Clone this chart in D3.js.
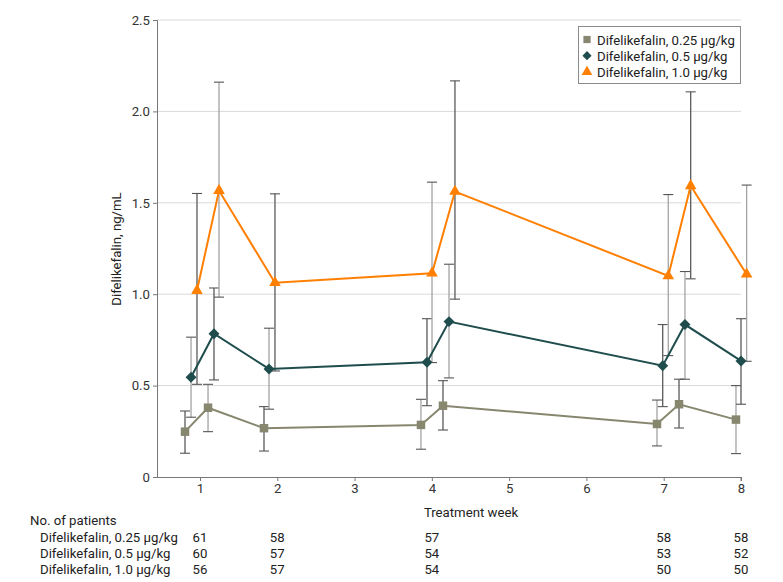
<!DOCTYPE html>
<html>
<head>
<meta charset="utf-8">
<script src="https://cdn.jsdelivr.net/npm/d3@7"></script>
<style>
  html, body { margin: 0; padding: 0; background: #fff; }
  svg { display: block; font-family: Roboto, "Liberation Sans", Arial, sans-serif; }
</style>
</head>
<body>
<div id="chart"></div>
<script>
// ---------- data ----------
const seriesNames = ["Difelikefalin, 0.25 µg/kg", "Difelikefalin, 0.5 µg/kg", "Difelikefalin, 1.0 µg/kg"];

// sampling time in weeks (pre/post-dialysis points around each visit)
const x025 = [0.806, 1.104, 1.828, 3.859, 4.144, 6.913, 7.198, 7.935];
const y025 = [0.248, 0.379, 0.267, 0.285, 0.390, 0.290, 0.398, 0.314];
const lo025 = [0.130, 0.248, 0.142, 0.152, 0.257, 0.170, 0.268, 0.128];
const hi025 = [0.361, 0.507, 0.385, 0.425, 0.527, 0.421, 0.535, 0.500];

const x05 = [0.884, 1.181, 1.893, 3.937, 4.222, 6.987, 7.275, 8.000];
const y05 = [0.546, 0.784, 0.591, 0.628, 0.850, 0.609, 0.834, 0.635];
const lo05 = [0.327, 0.531, 0.371, 0.390, 0.542, 0.385, 0.535, 0.398];
const hi05 = [0.765, 1.034, 0.814, 0.866, 1.164, 0.834, 1.124, 0.866];

const x10 = [0.961, 1.246, 1.970, 4.002, 4.299, 7.059, 7.349, 8.073];
const y10 = [1.020, 1.567, 1.063, 1.115, 1.562, 1.100, 1.593, 1.109];
const lo10 = [0.507, 0.984, 0.580, 0.626, 0.973, 0.664, 1.084, 0.633];
const hi10 = [1.551, 2.160, 1.549, 1.613, 2.167, 1.545, 2.107, 1.597];

const xTicks = [1, 2, 3, 4, 5, 6, 7, 8];
const yTicks = [0, 0.5, 1.0, 1.5, 2.0, 2.5];
const yTickLabels = ["0", "0.5", "1.0", "1.5", "2.0", "2.5"];

const patientWeeks = [1, 2, 4, 7, 8];
const patients025 = [61, 58, 57, 58, 58];
const patients05 = [60, 57, 54, 53, 52];
const patients10 = [56, 57, 54, 50, 50];

// ---------- layout ----------
const W = 783, H = 582;
const FONT = "Roboto, 'Liberation Sans', Arial, sans-serif";
const FS = 13.2;
const colors = ["#87876f", "#1f4d4d", "#ff7f00"];
const symbols = [d3.symbolSquare, d3.symbolSquare, d3.symbolTriangle];

const svg = d3.select("#chart").append("svg").attr("width", W).attr("height", H);

const x = d3.scaleLinear().domain([1, 8]).range([200, 741]);
const y = d3.scaleLinear().domain([0, 2.5]).range([477, 20]);
const xLeft = 157, xRight = 741;

// gridlines
svg.append("g").selectAll("line").data(yTicks.filter(d => d > 0)).join("line")
  .attr("x1", xLeft).attr("x2", xRight)
  .attr("y1", d => y(d)).attr("y2", d => y(d))
  .attr("stroke", "#d9d9d9").attr("stroke-width", 1);

// y axis
const yAxis = d3.axisLeft(y).tickValues(yTicks).tickFormat((d, i) => yTickLabels[i]).tickSize(4).tickPadding(3);
const gy = svg.append("g").attr("transform", `translate(${xLeft},0)`).call(yAxis);
gy.select(".domain").attr("stroke", "#777");
gy.selectAll(".tick line").attr("stroke", "#777");
gy.selectAll(".tick text").attr("font-size", FS).attr("fill", "#333").attr("font-family", FONT);

// x axis
const xAxis = d3.axisBottom(x).tickValues(xTicks).tickFormat(d3.format("d")).tickSize(4).tickPadding(3).tickSizeOuter(0);
const gx = svg.append("g").attr("transform", `translate(0,${y(0)})`).call(xAxis);
gx.select(".domain").attr("d", `M${xLeft},0.5H${xRight}V4`).attr("stroke", "#777");
gx.selectAll(".tick line").attr("stroke", "#777");
gx.selectAll(".tick text").attr("font-size", FS).attr("fill", "#333").attr("font-family", FONT);

// axis titles
svg.append("text")
  .attr("transform", `translate(121,249) rotate(-90)`)
  .attr("text-anchor", "middle").attr("font-size", FS).attr("fill", "#222")
  .text("Difelikefalin, ng/mL");
svg.append("text")
  .attr("x", 471).attr("y", 517).attr("text-anchor", "middle")
  .attr("font-size", FS).attr("fill", "#222").text("Treatment week");

// build series
const series = [
  { xs: x025, ys: y025, lo: lo025, hi: hi025 },
  { xs: x05, ys: y05, lo: lo05, hi: hi05 },
  { xs: x10, ys: y10, lo: lo10, hi: hi10 }
].map((s, k) => ({
  k,
  pts: s.xs.map((xv, i) => ({ x: xv, y: s.ys[i], lo: s.lo[i], hi: s.hi[i], k }))
}));

// error bars (ordered by x, alternating shades)
const allPts = series.flatMap(s => s.pts).sort((a, b) => a.x - b.x);
const eb = svg.append("g");
allPts.forEach((p, i) => {
  const cx = x(p.x);
  const shade = i % 2 === 0 ? "#5a5a5a" : "#a3a3a3";
  eb.append("line").attr("x1", cx).attr("x2", cx).attr("y1", y(p.hi)).attr("y2", y(p.lo))
    .attr("stroke", shade).attr("stroke-width", 1.3);
  [p.hi, p.lo].forEach(v => {
    eb.append("line").attr("x1", cx - 5).attr("x2", cx + 5).attr("y1", y(v)).attr("y2", y(v))
      .attr("stroke", "#555").attr("stroke-width", 1.1);
  });
});

// lines
const line = d3.line().x(d => x(d.x)).y(d => y(d.y));
svg.append("g").selectAll("path").data(series).join("path")
  .attr("d", s => line(s.pts)).attr("fill", "none")
  .attr("stroke", s => colors[s.k]).attr("stroke-width", 2);

// markers
const sizes = [72, 60, 58];
series.forEach(s => {
  svg.append("g").selectAll("path").data(s.pts).join("path")
    .attr("d", d3.symbol().type(symbols[s.k]).size(sizes[s.k]))
    .attr("transform", d => `translate(${x(d.x)},${y(d.y)})` + (s.k === 1 ? " rotate(45)" : ""))
    .attr("fill", colors[s.k]);
});

// legend
const lg = svg.append("g");
lg.append("rect").attr("x", 578.5).attr("y", 26.5).attr("width", 162).attr("height", 57)
  .attr("fill", "#fff").attr("stroke", "#8a8a8a").attr("stroke-width", 1);
const legendSizes = [52, 42, 50];
seriesNames.forEach((name, k) => {
  const cy = 39.5 + k * 16.2;
  lg.append("path").attr("d", d3.symbol().type(symbols[k]).size(legendSizes[k]))
    .attr("transform", `translate(587,${cy})` + (k === 1 ? " rotate(45)" : ""))
    .attr("fill", colors[k]);
  lg.append("text").attr("x", 597).attr("y", cy + 5).attr("font-size", FS).attr("fill", "#222").text(name);
});

// number at risk table
const tbl = svg.append("g").attr("font-size", FS).attr("fill", "#222");
tbl.append("text").attr("x", 30).attr("y", 525).text("No. of patients");
[patients025, patients05, patients10].forEach((row, r) => {
  const by = 542 + r * 16;
  tbl.append("text").attr("x", 40).attr("y", by).text(seriesNames[r]);
  row.forEach((n, i) => {
    tbl.append("text").attr("x", x(patientWeeks[i])).attr("y", by).attr("text-anchor", "middle").text(n);
  });
});
</script>
</body>
</html>
